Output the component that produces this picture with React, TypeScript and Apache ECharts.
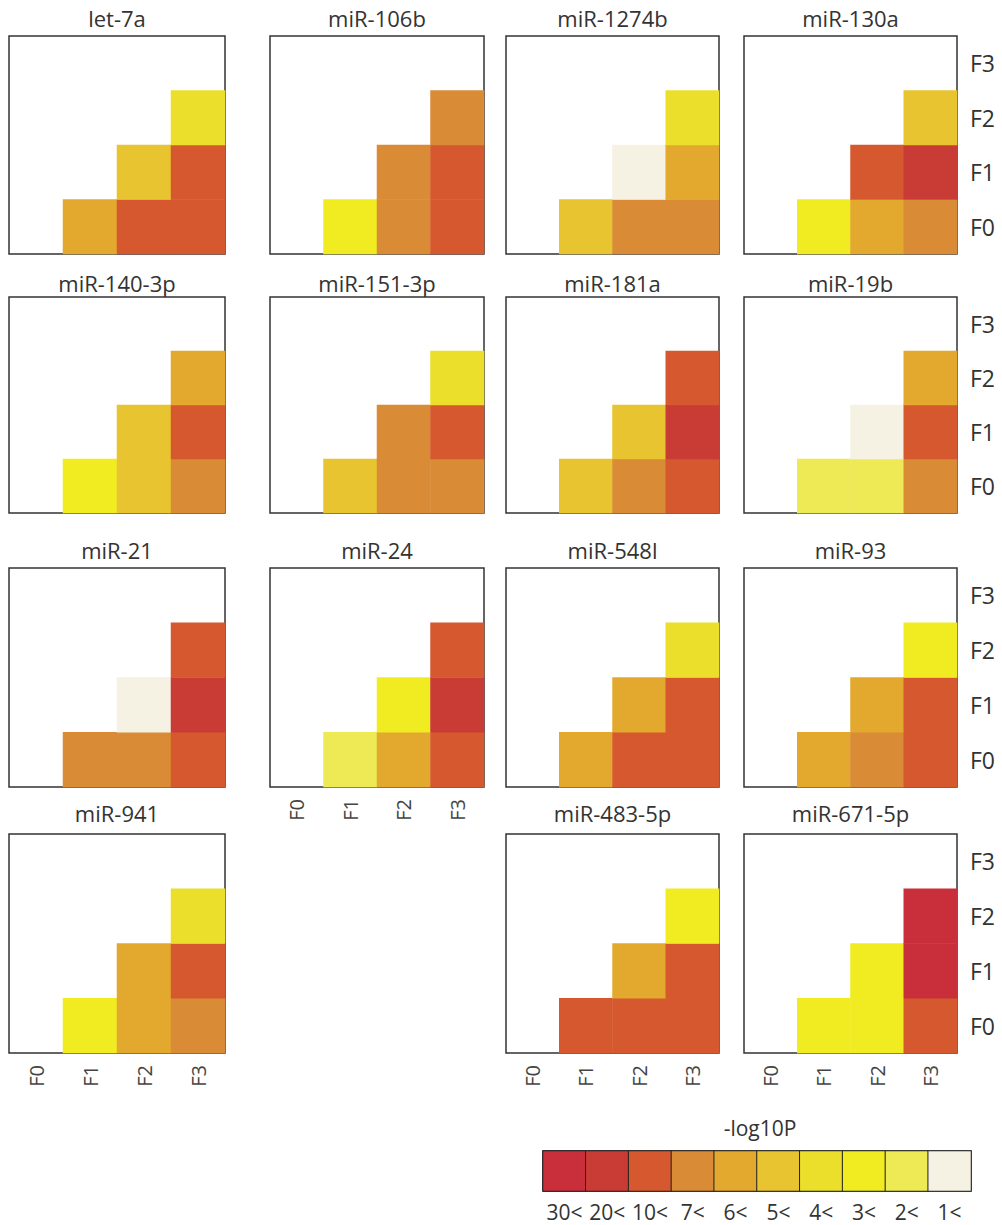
import React, { useEffect, useRef } from "react";
import * as echarts from "echarts";

// ---------- data ----------
const levels = ["F0", "F1", "F2", "F3"];

const panelNames = [
  "let-7a", "miR-106b", "miR-1274b", "miR-130a",
  "miR-140-3p", "miR-151-3p", "miR-181a", "miR-19b",
  "miR-21", "miR-24", "miR-548l", "miR-93",
  "miR-941", "miR-483-5p", "miR-671-5p",
];

// category pairs [x, y] of the six filled cells, in this order:
// (F1,F0) (F2,F0) (F3,F0) (F2,F1) (F3,F1) (F3,F2)
const cellPairs = [[1, 0], [2, 0], [3, 0], [2, 1], [3, 1], [3, 2]];

// -log10P values (binned)
const let7a = [6.5, 15, 15, 5.5, 15, 4.5];
const miR106b = [3.5, 8.5, 15, 8.5, 15, 8.5];
const miR1274b = [5.5, 8.5, 8.5, 1.5, 6.5, 4.5];
const miR130a = [3.5, 6.5, 8.5, 15, 25, 5.5];
const miR140 = [3.5, 5.5, 8.5, 5.5, 15, 6.5];
const miR151 = [5.5, 8.5, 8.5, 8.5, 15, 4.5];
const miR181a = [5.5, 8.5, 15, 5.5, 25, 15];
const miR19b = [2.5, 2.5, 8.5, 1.5, 15, 6.5];
const miR21 = [8.5, 8.5, 15, 1.5, 25, 15];
const miR24 = [2.5, 6.5, 15, 3.5, 25, 15];
const miR548l = [6.5, 15, 15, 6.5, 15, 4.5];
const miR93 = [6.5, 8.5, 15, 6.5, 15, 3.5];
const miR941 = [3.5, 6.5, 8.5, 6.5, 15, 4.5];
const miR483 = [15, 15, 15, 6.5, 15, 3.5];
const miR671 = [3.5, 3.5, 15, 3.5, 35, 35];

const panelValues = [
  let7a, miR106b, miR1274b, miR130a,
  miR140, miR151, miR181a, miR19b,
  miR21, miR24, miR548l, miR93,
  miR941, miR483, miR671,
];

const legendLabels = ["30<", "20<", "10<", "7<", "6<", "5<", "4<", "3<", "2<", "1<"];
const legendValues = [35, 25, 15, 8.5, 6.5, 5.5, 4.5, 3.5, 2.5, 1.5];
const binThresholds = [30, 20, 10, 7, 6, 5, 4, 3, 2, 1];
const binColors = [
  "#c92f3a", "#c93b35", "#d6582e", "#d98b35", "#e3a82e",
  "#e8c431", "#ecdf2b", "#f1ec22", "#eeea55", "#f5f2e3",
];

// ---------- layout ----------
const colLeft = [9, 270, 506, 744];
const colWidth = [216, 214, 213, 213];
const rowTop = [36, 297, 568, 834];
const rowHeight = [218, 216, 219, 219];
const titleTop = [7, 272, 539, 802];
// slot [row, col] of every panel
const slots = [
  [0, 0], [0, 1], [0, 2], [0, 3],
  [1, 0], [1, 1], [1, 2], [1, 3],
  [2, 0], [2, 1], [2, 2], [2, 3],
  [3, 0], [3, 2], [3, 3],
];
const FONT = "'Open Sans', 'Noto Sans', sans-serif";

function buildOption() {
  const grids: any[] = [];
  const xAxes: any[] = [];
  const yAxes: any[] = [];
  const series: any[] = [];
  const titles: any[] = [];

  // bottom-most row per column
  const bottomRow: number[] = [0, 0, 0, 0];
  slots.forEach(([r, c]) => { if (r > bottomRow[c]) bottomRow[c] = r; });

  panelNames.forEach((name, i) => {
    const [r, c] = slots[i];
    grids.push({
      left: colLeft[c], top: rowTop[r], width: colWidth[c], height: rowHeight[r],
      show: true, borderColor: "#333", borderWidth: 1.5, backgroundColor: "#fff",
      containLabel: false,
    });
    xAxes.push({
      type: "category", gridIndex: i, data: levels,
      axisLine: { show: false }, axisTick: { show: false }, splitLine: { show: false },
      axisLabel: {
        show: r === bottomRow[c], rotate: 90, margin: 12, interval: 0,
        fontSize: 20, color: "#444", fontFamily: FONT,
      },
    });
    yAxes.push({
      type: "category", gridIndex: i, data: levels, position: "right",
      axisLine: { show: false }, axisTick: { show: false }, splitLine: { show: false },
      axisLabel: { show: c === 3, margin: 13, interval: 0, fontSize: 23, color: "#333", fontFamily: FONT },
    });
    series.push({
      type: "heatmap", xAxisIndex: i, yAxisIndex: i, silent: true,
      data: cellPairs.map((p, k) => [p[0], p[1], panelValues[i][k]]),
      emphasis: { disabled: true },
    });
    titles.push({
      text: name, left: colLeft[c] + colWidth[c] / 2, top: titleTop[r],
      textAlign: "center", padding: 0,
      textStyle: { fontSize: 22, fontWeight: "normal", color: "#333", fontFamily: FONT },
    });
  });

  // colour key
  const li = panelNames.length;
  grids.push({
    left: 543, top: 1151, width: 428, height: 40,
    show: true, borderColor: "#222", borderWidth: 1.5, backgroundColor: "#fff",
  });
  xAxes.push({
    type: "category", gridIndex: li, data: legendLabels,
    axisLine: { show: false }, axisTick: { show: false },
    axisLabel: { margin: 10, interval: 0, fontSize: 21, color: "#333", fontFamily: FONT },
  });
  yAxes.push({
    type: "category", gridIndex: li, data: [""],
    axisLine: { show: false }, axisTick: { show: false }, axisLabel: { show: false },
  });
  series.push({
    type: "heatmap", xAxisIndex: li, yAxisIndex: li, silent: true,
    data: legendValues.map((v, k) => [k, 0, v]),
    itemStyle: { borderColor: "#222", borderWidth: 1 },
    emphasis: { disabled: true },
  });
  titles.push({
    text: "-log10P", left: 760, top: 1117, textAlign: "center", padding: 0,
    textStyle: { fontSize: 21, fontWeight: "normal", color: "#333", fontFamily: FONT },
  });

  const pieces = binThresholds.map((t, k) =>
    k === 0 ? { gt: t, color: binColors[k] } : { gt: t, lte: binThresholds[k - 1], color: binColors[k] }
  );

  return {
    animation: false,
    backgroundColor: "#fff",
    title: titles,
    grid: grids,
    xAxis: xAxes,
    yAxis: yAxes,
    visualMap: { type: "piecewise", show: false, pieces, dimension: 2 },
    series,
  };
}

export default function App() {
  const ref = useRef<HTMLDivElement>(null);
  useEffect(() => {
    if (!ref.current) return;
    const chart = echarts.init(ref.current, undefined, { renderer: "svg" });
    chart.setOption(buildOption());
    return () => chart.dispose();
  }, []);
  return (
    <div
      ref={ref}
      style={{ position: "absolute", left: 0, top: 0, width: 1002, height: 1225 }}
    />
  );
}
